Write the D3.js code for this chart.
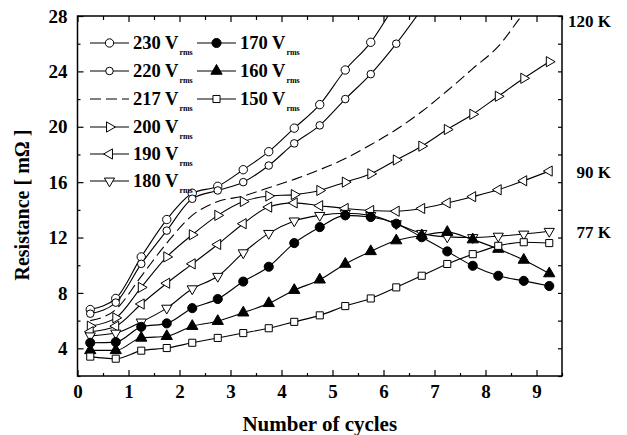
<!DOCTYPE html>
<html>
<head>
<meta charset="utf-8">
<script src="https://cdn.jsdelivr.net/npm/d3@7"></script>
<style>
  body { margin: 0; background: #fff; }
  svg { display: block; }
  text { font-family: "Liberation Serif", "Times New Roman", serif; font-weight: bold; fill: #000; }
  .axis path { display: none; }
  .axis line { stroke: #000; stroke-width: 1.2; }
</style>
</head>
<body>
<div class="wrapper"></div>
<script>
width = 627;
height = 435;

/* Data */
cycles = [0.25, 0.75, 1.25, 1.75, 2.25, 2.75, 3.25, 3.75, 4.25, 4.75,
          5.25, 5.75, 6.25, 6.75, 7.25, 7.75, 8.25, 8.75, 9.25];

r230 = [6.8, 7.6, 10.6, 13.3, 15.2, 15.7, 16.9, 18.2, 19.9, 21.6, 24.1, 26.1, 29.0];
r220 = [6.5, 7.3, 10.1, 12.5, 14.8, 15.4, 16.0, 17.2, 18.8, 20.1, 22.0, 23.8, 26.0, 28.5];
r217 = [6.0, 6.8, 9.2, 11.6, 13.6, 14.6, 15.0, 15.6, 16.2, 16.9, 17.7, 18.7, 19.8, 21.1, 22.6, 24.2, 25.8, 28.2, 30.2];
r200 = [5.6, 6.2, 8.4, 10.6, 12.2, 13.6, 14.6, 15.0, 15.1, 15.4, 16.0, 16.6, 17.6, 18.6, 19.8, 20.9, 22.2, 23.5, 24.7];
r190 = [5.2, 5.6, 7.2, 8.7, 10.1, 11.5, 13.0, 14.2, 14.5, 14.3, 14.1, 13.95, 13.9, 14.1, 14.5, 14.95, 15.45, 16.1, 16.8];
r180 = [4.9, 5.1, 5.9, 6.9, 8.3, 9.2, 10.9, 12.3, 13.2, 13.6, 13.75, 13.6, 13.0, 12.3, 12.05, 12.0, 12.1, 12.25, 12.45];
r170 = [4.4, 4.45, 5.55, 5.8, 6.9, 7.56, 8.82, 9.89, 11.6, 12.75, 13.6, 13.48, 13.0, 12.02, 11.0, 9.96, 9.24, 8.87, 8.5];
r160 = [3.85, 3.85, 4.75, 4.87, 5.6, 5.96, 6.57, 7.25, 8.2, 8.95, 10.09, 11.0, 11.78, 12.15, 12.39, 11.85, 11.17, 10.38, 9.4];
r150 = [3.4, 3.25, 3.83, 4.02, 4.4, 4.75, 5.1, 5.45, 5.91, 6.38, 7.05, 7.6, 8.4, 9.24, 10.09, 10.8, 11.4, 11.66, 11.6];

seriesNames = ["230", "220", "217", "200", "190", "180", "170", "160", "150"];
seriesValues = [r230, r220, r217, r200, r190, r180, r170, r160, r150];

xTicks = [0, 1, 2, 3, 4, 5, 6, 7, 8, 9];
yTicks = [4, 8, 12, 16, 20, 24, 28];
tempLabels = ["120 K", "90 K", "77 K"];
tempLevels = [27.6, 16.75, 12.4];

/* Marker styles per series */
markerStyle = {
  "230": { shape: "circle", fill: "#fff", rot: 0, size: 55 },
  "220": { shape: "circle", fill: "#fff", rot: 0, size: 45 },
  "217": { shape: "none" },
  "200": { shape: "triangle", fill: "#fff", rot: 90, size: 45 },
  "190": { shape: "triangle", fill: "#fff", rot: -90, size: 45 },
  "180": { shape: "triangle", fill: "#fff", rot: 180, size: 45 },
  "170": { shape: "circle", fill: "#000", rot: 0, size: 65 },
  "160": { shape: "triangle", fill: "#000", rot: 0, size: 55 },
  "150": { shape: "square", fill: "#fff", rot: 0, size: 50 }
};

plotLeft = 77.5; plotRight = 562; plotTop = 16; plotBottom = 376;

scaleX = d3.scaleLinear().domain([0, 9.5]).range([plotLeft, plotRight]);
scaleY = d3.scaleLinear().domain([2, 28]).range([plotBottom, plotTop]);

/* Initialize canvas */
svg = d3.select(".wrapper")
  .append("svg")
  .attr("width", width)
  .attr("height", height)
  .attr("viewBox", "0 0 " + width + " " + height);

svg.append("defs").append("clipPath")
  .attr("id", "plotclip")
  .append("rect")
  .attr("x", plotLeft).attr("y", plotTop)
  .attr("width", plotRight - plotLeft).attr("height", plotBottom - plotTop);

function symbolPath(st) {
  var type = st.shape == "circle" ? d3.symbolCircle
    : st.shape == "square" ? d3.symbolSquare : d3.symbolTriangle;
  return d3.symbol().type(type).size(st.size)();
}

/* Axes */
function drawAxes() {
  // bottom, major + minor
  svg.append("g").attr("class", "axis")
    .attr("transform", "translate(0," + plotBottom + ")")
    .call(d3.axisBottom(scaleX).tickValues(xTicks).tickSize(-6).tickPadding(9).tickFormat(d3.format("d")))
    .selectAll("text").style("font-size", "19px").style("font-family", null);
  svg.append("g").attr("class", "axis")
    .attr("transform", "translate(0," + plotBottom + ")")
    .call(d3.axisBottom(scaleX).tickValues(xTicks.map(function (d) { return d + 0.5; })).tickSize(-3).tickFormat(""));

  // top
  svg.append("g").attr("class", "axis")
    .attr("transform", "translate(0," + plotTop + ")")
    .call(d3.axisTop(scaleX).tickValues(xTicks).tickSize(-6).tickFormat(""));
  svg.append("g").attr("class", "axis")
    .attr("transform", "translate(0," + plotTop + ")")
    .call(d3.axisTop(scaleX).tickValues(xTicks.map(function (d) { return d + 0.5; })).tickSize(-4).tickFormat(""));

  // left
  svg.append("g").attr("class", "axis")
    .attr("transform", "translate(" + plotLeft + ",0)")
    .call(d3.axisLeft(scaleY).tickValues(yTicks).tickSize(-6).tickPadding(10).tickFormat(d3.format("d")))
    .selectAll("text").style("font-size", "19px").style("font-family", null);
  svg.append("g").attr("class", "axis")
    .attr("transform", "translate(" + plotLeft + ",0)")
    .call(d3.axisLeft(scaleY).tickValues(yTicks.map(function (d) { return d - 2; })).tickSize(-3).tickFormat(""));

  // right
  svg.append("g").attr("class", "axis")
    .attr("transform", "translate(" + plotRight + ",0)")
    .call(d3.axisRight(scaleY).tickValues(yTicks.concat(yTicks.map(function (d) { return d - 2; }))).tickSize(-4).tickFormat(""));

  svg.selectAll(".axis .tick text").attr("fill", "#000");

  // frame
  svg.append("rect")
    .attr("x", plotLeft).attr("y", plotTop)
    .attr("width", plotRight - plotLeft).attr("height", plotBottom - plotTop)
    .attr("fill", "none").attr("stroke", "#000").attr("stroke-width", 1.5);

  // axis titles
  svg.append("text")
    .attr("x", (plotLeft + plotRight) / 2).attr("y", 431)
    .attr("text-anchor", "middle").style("font-size", "21px")
    .text("Number of cycles");
  svg.append("text")
    .attr("transform", "translate(29,205) rotate(-90)")
    .attr("text-anchor", "middle").style("font-size", "20px")
    .text("Resistance [ mΩ ]");

  // temperature labels on the right
  svg.selectAll(".temp")
    .data(tempLabels)
    .enter().append("text")
    .attr("class", "temp")
    .attr("x", 611)
    .attr("y", function (d, i) { return scaleY(tempLevels[i]); })
    .attr("dy", "0.35em")
    .attr("text-anchor", "end")
    .style("font-size", "17px")
    .text(function (d) { return d; });
}

/* Curves */
function drawSeries() {
  var line = d3.line()
    .x(function (d) { return scaleX(d.x); })
    .y(function (d) { return scaleY(d.y); })
    .curve(d3.curveMonotoneX);

  var plot = svg.append("g").attr("clip-path", "url(#plotclip)");

  seriesNames.forEach(function (name, i) {
    var pts = seriesValues[i].map(function (v, j) { return { x: cycles[j], y: v }; });
    var st = markerStyle[name];

    plot.append("path")
      .datum(pts)
      .attr("d", line)
      .attr("fill", "none")
      .attr("stroke", "#000")
      .attr("stroke-width", 1.1)
      .attr("stroke-dasharray", name == "217" ? "11,5" : null);

    if (st.shape == "none") return;

    plot.selectAll(".m" + name)
      .data(pts)
      .enter().append("path")
      .attr("class", "m" + name)
      .attr("d", symbolPath(st))
      .attr("fill", st.fill)
      .attr("stroke", "#000")
      .attr("stroke-width", 1)
      .attr("transform", function (d) {
        return "translate(" + scaleX(d.x) + "," + scaleY(d.y) + ") rotate(" + st.rot + ")";
      });
  });
}

/* Legend */
function drawLegend() {
  var rowY = [43, 71, 99, 127, 154, 181];
  seriesNames.forEach(function (name, i) {
    var col = i < 6 ? 0 : 1;
    var row = i < 6 ? i : i - 6;
    var x0 = col == 0 ? 90 : 197;
    var y0 = rowY[row];
    var st = markerStyle[name];
    var g = svg.append("g").attr("transform", "translate(" + x0 + "," + y0 + ")");

    g.append("line")
      .attr("x1", 0).attr("x2", 39).attr("y1", 0).attr("y2", 0)
      .attr("stroke", "#000").attr("stroke-width", 1.1)
      .attr("stroke-dasharray", name == "217" ? "11,5" : null);
    if (st.shape != "none") {
      g.append("path")
        .attr("d", symbolPath(st))
        .attr("fill", st.fill).attr("stroke", "#000")
        .attr("transform", "translate(19.5,0) rotate(" + st.rot + ")");
    }

    var t = g.append("text")
      .attr("x", 43).attr("y", 0).attr("dy", "0.35em")
      .style("font-size", "18.5px");
    t.append("tspan").text(name + " V");
    t.append("tspan").attr("dy", 6).attr("dx", 1).style("font-size", "8px").text("rms");
  });
}

drawAxes();
drawSeries();
drawLegend();
</script>
</body>
</html>
